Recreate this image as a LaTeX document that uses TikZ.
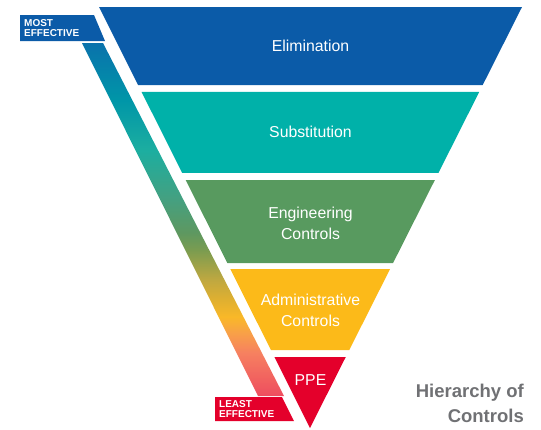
\documentclass[tikz,border=0pt]{standalone}
\usepackage{fontspec}
\setmainfont{Liberation Sans}
\usetikzlibrary{calc}
\definecolor{elimcolour}{HTML}{0B5BA8}
\definecolor{substcolour}{HTML}{00B1A9}
\definecolor{engcolour}{HTML}{589A5F}
\definecolor{admincolour}{HTML}{FCBA19}
\definecolor{ppecolour}{HTML}{E4002B}
\definecolor{titlecolour}{HTML}{707174}
% colours of the effectiveness strip, bottom to top
\definecolor{gradA}{HTML}{EE4D5F}
\definecolor{gradB}{HTML}{F68060}
\definecolor{gradC}{HTML}{F8A048}
\definecolor{gradD}{HTML}{F9B828}
\definecolor{gradE}{HTML}{E0B030}
\definecolor{gradF}{HTML}{C0A840}
\definecolor{gradG}{HTML}{7A9C50}
\definecolor{gradH}{HTML}{5E9860}
\definecolor{gradI}{HTML}{45A080}
\definecolor{gradJ}{HTML}{1CAEA0}
\definecolor{gradK}{HTML}{0096A8}
\definecolor{gradL}{HTML}{0A72AC}
\pgfdeclareverticalshading{effectshade}{100bp}{color(0bp)=(gradA); color(25bp)=(gradA);
  color(31.1bp)=(gradB); color(33.9bp)=(gradC); color(36.2bp)=(gradD); color(38.6bp)=(gradE);
  color(41.4bp)=(gradF); color(45.7bp)=(gradG); color(48.1bp)=(gradH); color(52.8bp)=(gradI);
  color(59.8bp)=(gradJ); color(66.9bp)=(gradK); color(75bp)=(gradL); color(100bp)=(gradL)}

\begin{document}
\begin{tikzpicture}[
  x=1pt, y=-1pt,
  bandtext/.style = {text=white, align=center, inner sep=0pt, font=\fontsize{15.8}{21}\selectfont},
  tag/.style = {text=white, align=left, anchor=north west, inner sep=0pt, font=\bfseries\fontsize{10}{10.5}\selectfont},
  title/.style = {text=titlecolour, align=right, anchor=north east, inner sep=0pt, font=\bfseries\fontsize{18.5}{25}\selectfont}
  ]
  \useasboundingbox (0,0) rectangle (541,429);

  \coordinate (tl) at (99,7);
  \coordinate (tr) at (522,7);
  \coordinate (apex) at (310,428);

  % bands of the triangle
  \foreach \ya/\yb/\yt/\col/\name/\txt in {7/85/46/elimcolour/elim/Elimination,
      92/173/132/substcolour/subst/Substitution,
      180/263/223/engcolour/eng/{Engineering\\Controls},
      269/350/310/admincolour/admin/{Administrative\\Controls},
      357/428/380/ppecolour/ppe/PPE}{
    \fill[\col] ($(tl)!{(\ya-7)/421}!(apex)$) -- ($(tr)!{(\ya-7)/421}!(apex)$)
      -- ($(tr)!{(\yb-7)/421}!(apex)$) -- ($(tl)!{(\yb-7)/421}!(apex)$) -- cycle;
    \node[bandtext] (\name) at (310.5,\yt) {\txt};
  }

  % effectiveness strip
  \coordinate (s1) at (82,43);
  \coordinate (s2) at (103,43);
  \coordinate (s3) at (284,396);
  \coordinate (s4) at (258,396);
  \shade[shading=effectshade] (s1) -- (s2) -- (s3) -- (s4) -- cycle;

  % tags
  \fill[elimcolour] (20,15) -- (94,15) -- (105,41) -- (20,41) -- cycle;
  \node[tag] (most) at (24,19) {MOST\\EFFECTIVE};
  \fill[ppecolour] (215,397) -- (282,397) -- (294,421) -- (215,421) -- cycle;
  \node[tag] (least) at (219,400) {LEAST\\EFFECTIVE};

  \node[title] (hoc) at (524,384) {Hierarchy of\\Controls};
\end{tikzpicture}
\end{document}
